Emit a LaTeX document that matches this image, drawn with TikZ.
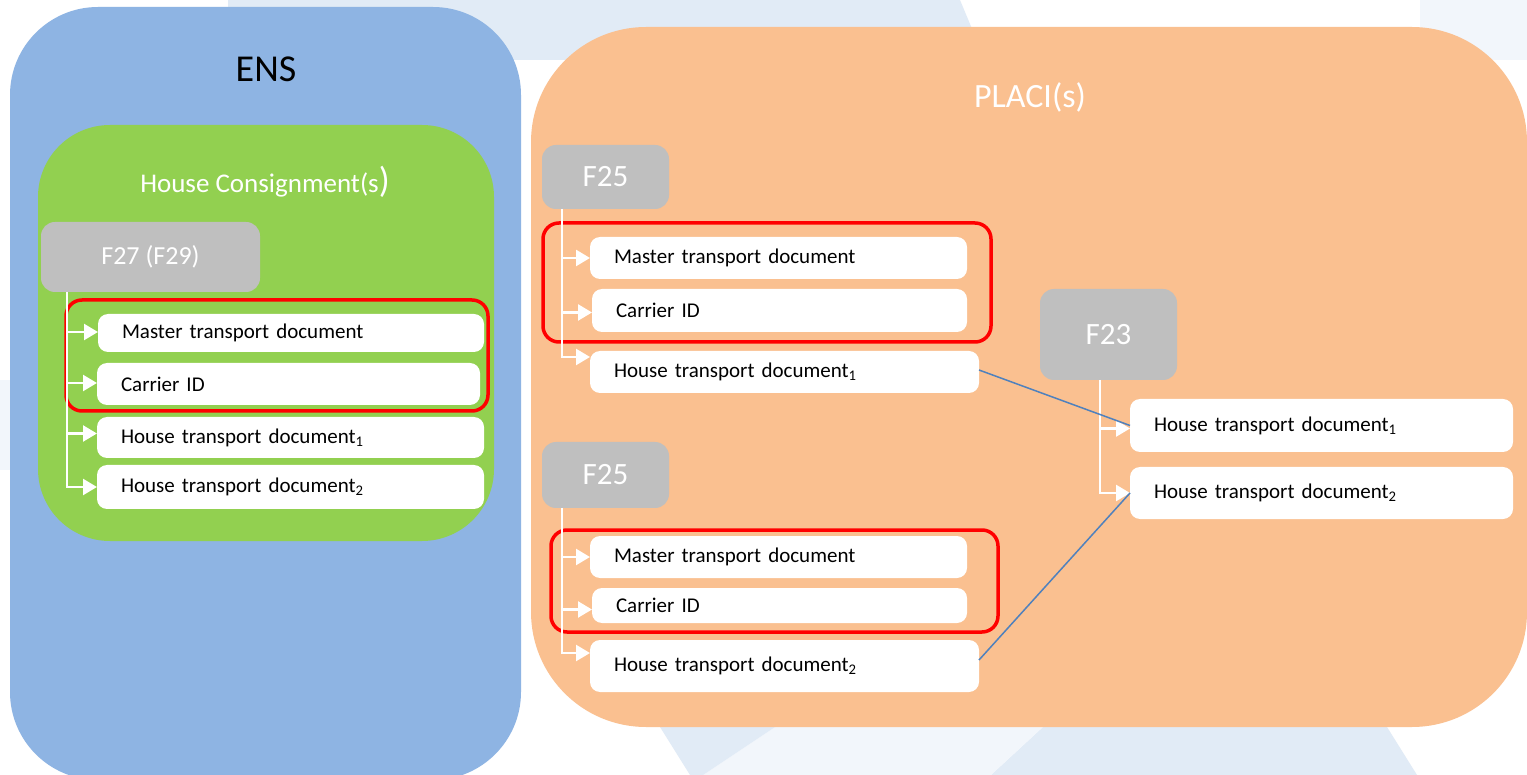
\documentclass[tikz,border=0pt]{standalone}
\usepackage{fontspec}
\setmainfont{Carlito}
\usetikzlibrary{arrows.meta}
\definecolor{ensblue}{HTML}{8EB4E3}
\definecolor{hcgreen}{HTML}{92D050}
\definecolor{placiorange}{HTML}{FAC090}
\definecolor{hdrgray}{HTML}{BFBFBF}
\definecolor{linkblue}{HTML}{4F81BD}
\definecolor{wmblue}{HTML}{E1EBF6}
\definecolor{wmlight}{HTML}{F2F6FB}
\newcommand\fsz[1]{\fontsize{#1}{#1}\selectfont}
\newcommand\itm[6]{%
  \pgfmathsetmacro\itmH{#5-#3}%
  \pgfmathsetmacro\itmT{#4-#2-48}%
  \node[item, text width=\itmT pt, minimum height=\itmH pt, anchor=north west] (#1) at (#2,#3) {#6};}
\begin{document}
\begin{tikzpicture}[x=1pt,y=-1pt,
  item/.style={fill=white, rounded corners=10pt, inner xsep=24pt, inner ysep=0pt, outer sep=0pt, align=left, font=\fsz{21}, text=black},
  hdr/.style={fill=hdrgray, rounded corners=14pt, text=white, inner sep=0pt, outer sep=0pt, anchor=north west},
  tree/.style={draw=white, line width=2.5pt, -{Triangle[length=14pt,width=16pt]}},
  frame/.style={draw=red, line width=3.5pt, rounded corners=16pt},
  link/.style={draw=linkblue, line width=1.5pt},
  title/.style={inner sep=0pt, anchor=base}]
% background
\fill[white] (0,0) rectangle (1527,775);
\useasboundingbox (0,0) rectangle (1527,775);
\fill[wmblue] (228,0) -- (960,0) -- (985,60) -- (230,60) -- cycle;
\fill[wmlight] (1420,0) rectangle (1527,60);
\fill[wmblue] (1043,727) -- (1387,727) -- (1417,775) -- (991,775) -- cycle;
\fill[wmlight] (775,727) -- (1043,727) -- (991,775) -- (703,775) -- cycle;
\fill[wmblue] (660,727) -- (775,727) -- (703,775) -- (690,775) -- cycle;
\fill[wmlight] (0,380) rectangle (10,470);
% containers
\fill[ensblue, rounded corners=88pt] (10,7) rectangle (521,780);
\fill[hcgreen, rounded corners=72pt] (38,125) rectangle (494,541);
\fill[placiorange, rounded corners=115pt] (531,27) rectangle (1527,727);
% titles
\node[title, font=\fsz{38}] (ens) at (266,82) {ENS};
\node[title, font=\fsz{27}, text=white] (hc) at (265,193) {House Consignment(s{\fsz{36})}};
\node[title, font=\fsz{34}, text=white] (placi) at (1030,108) {PLACI(s)};
% headers
\node[hdr, minimum width=219pt, minimum height=70pt, font=\fsz{26}] (f27) at (41,222) {F27 (F29)};
\node[hdr, minimum width=127pt, minimum height=64pt, font=\fsz{31}] (f25a) at (542,145) {F25};
\node[hdr, minimum width=127pt, minimum height=66pt, font=\fsz{31}] (f25b) at (542,442) {F25};
\node[hdr, minimum width=137pt, minimum height=91pt, font=\fsz{31}] (f23) at (1040,289) {F23};
% left items
\itm{lm}{98}{314}{484}{352}{Master transport document}
\itm{lc}{97}{363}{480}{405}{Carrier ID}
\itm{lh1}{97}{417}{484}{458}{House transport document\textsubscript{1}}
\itm{lh2}{97}{465}{484}{509}{House transport document\textsubscript{2}}
% top F25 items
\itm{am}{590}{237}{967}{279}{Master transport document}
\itm{ac}{592}{289}{967}{332}{Carrier ID}
\itm{ah1}{590}{351}{979}{393}{House transport document\textsubscript{1}}
% bottom F25 items
\itm{bm}{590}{536}{967}{578}{Master transport document}
\itm{bc}{592}{588}{967}{623}{Carrier ID}
\itm{bh2}{590}{640}{979}{692}{House transport document\textsubscript{2}}
% F23 items
\itm{rh1}{1130}{399}{1513}{452}{House transport document\textsubscript{1}}
\itm{rh2}{1130}{467}{1513}{519}{House transport document\textsubscript{2}}
% red frames
\draw[frame] (66,300) rectangle (488,411);
\draw[frame] (543,223) rectangle (991,342);
\draw[frame] (551,530) rectangle (998,632);
% trees
\coordinate (t1) at (f27.south -| 67,0);
\coordinate (t2) at (f25a.south -| 562,0);
\coordinate (t3) at (f25b.south -| 562,0);
\coordinate (t4) at (f23.south -| 1100,0);
\draw[tree] (t1) |- ([yshift=1pt]lm.west);
\draw[tree] (t1) |- ([yshift=1pt]lc.west);
\draw[tree] (t1) |- ([yshift=4pt]lh1.west);
\draw[tree] (t1) |- (lh2.west);
\draw[tree] (t2) |- (am.west);
\draw[tree] (t2) |- ([yshift=-2pt]ac.west);
\draw[tree] (t2) |- ([yshift=-6pt]ah1.north west);
\draw[tree] (t3) |- (bm.west);
\draw[tree] (t3) |- ([yshift=-4pt]bc.west);
\draw[tree] (t3) |- ([yshift=-13pt]bh2.north west);
\draw[tree] (t4) |- ([yshift=-3pt]rh1.west);
\draw[tree] (t4) |- (rh2.west);
% links
\draw[link] ([yshift=2pt]ah1.east) -- (rh1.west);
\draw[link] ([yshift=6pt]bh2.east) -- (rh2.west);
\end{tikzpicture}
\end{document}
